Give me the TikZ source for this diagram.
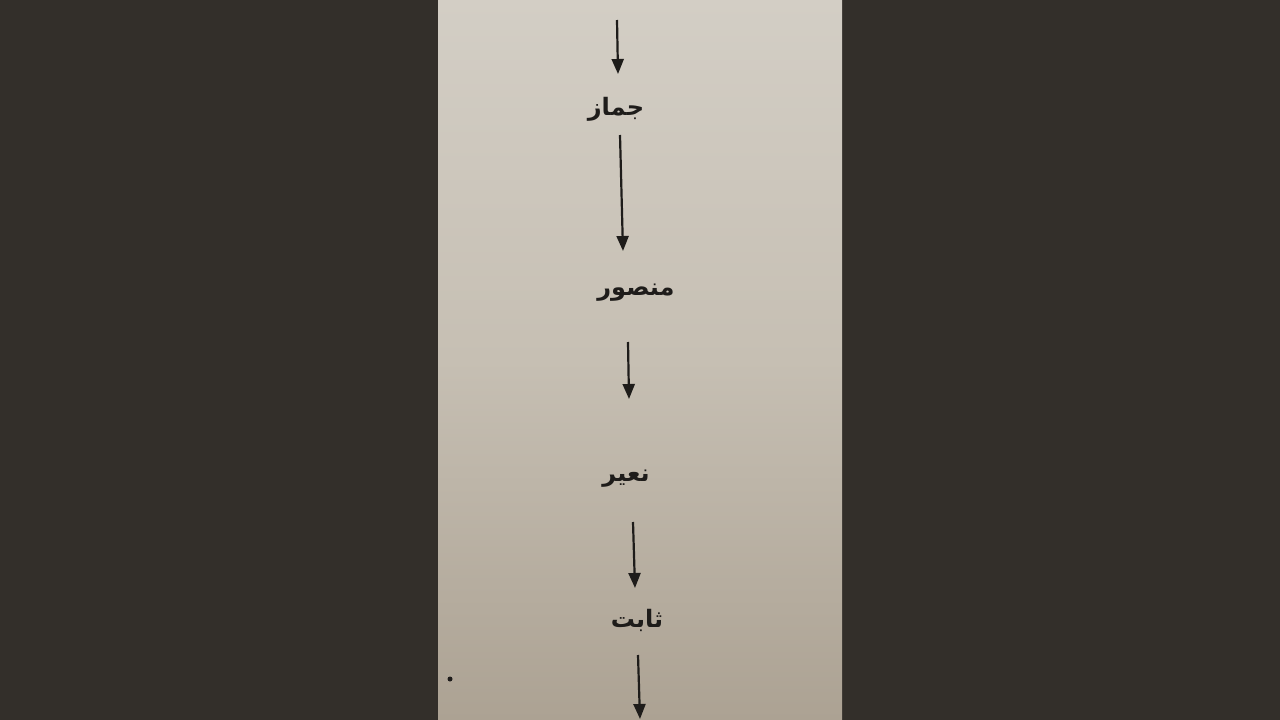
\documentclass[tikz,border=0pt]{standalone}
\usepackage{fontspec}
\newfontfamily\arabicfont[Script=Arabic]{DejaVu Sans}
\TeXXeTstate=1
\usetikzlibrary{arrows.meta}
\definecolor{bgdark}{HTML}{332F2A}
\definecolor{papertop}{HTML}{D3CEC5}
\definecolor{papermid}{HTML}{C6BFB3}
\definecolor{paperbot}{HTML}{ACA293}
\definecolor{ink}{HTML}{1E1C1A}
\begin{document}
\begin{tikzpicture}[x=1pt,y=-1pt,
  word/.style={font=\arabicfont\bfseries\fontsize{24}{28}\selectfont, text=ink, inner sep=0pt},
  flow/.style={draw=ink, line width=2.2pt, -{Triangle[length=15pt,width=12pt]}}]
\useasboundingbox (0,0) rectangle (1280,720);
\fill[bgdark] (0,0) rectangle (1280,720);
\shade[top color=papertop, bottom color=paperbot, middle color=papermid] (438,0) rectangle (842,720);
\coordinate (s0) at (617,20);
\coordinate (e0) at (618,74);
\node[word] (w1) at (616,109) {\beginR جماز\endR};
\node[word] (w2) at (636,293) {\beginR منصور\endR};
\node[word] (w3) at (626,479) {\beginR نعير\endR};
\node[word] (w4) at (637,620) {\beginR ثابت\endR};
\coordinate (s1) at (620,135);
\coordinate (e1) at (623,251);
\coordinate (s2) at (628,342);
\coordinate (e2) at (629,399);
\coordinate (s3) at (633,522);
\coordinate (e3) at (635,588);
\coordinate (s4) at (638,655);
\coordinate (e4) at (640,719);
\draw[flow] (s0) -- (e0);
\draw[flow] (s1) -- (e1);
\draw[flow] (s2) -- (e2);
\draw[flow] (s3) -- (e3);
\draw[flow] (s4) -- (e4);
\fill[ink] (450,679) circle (2.5);
\end{tikzpicture}
\end{document}
